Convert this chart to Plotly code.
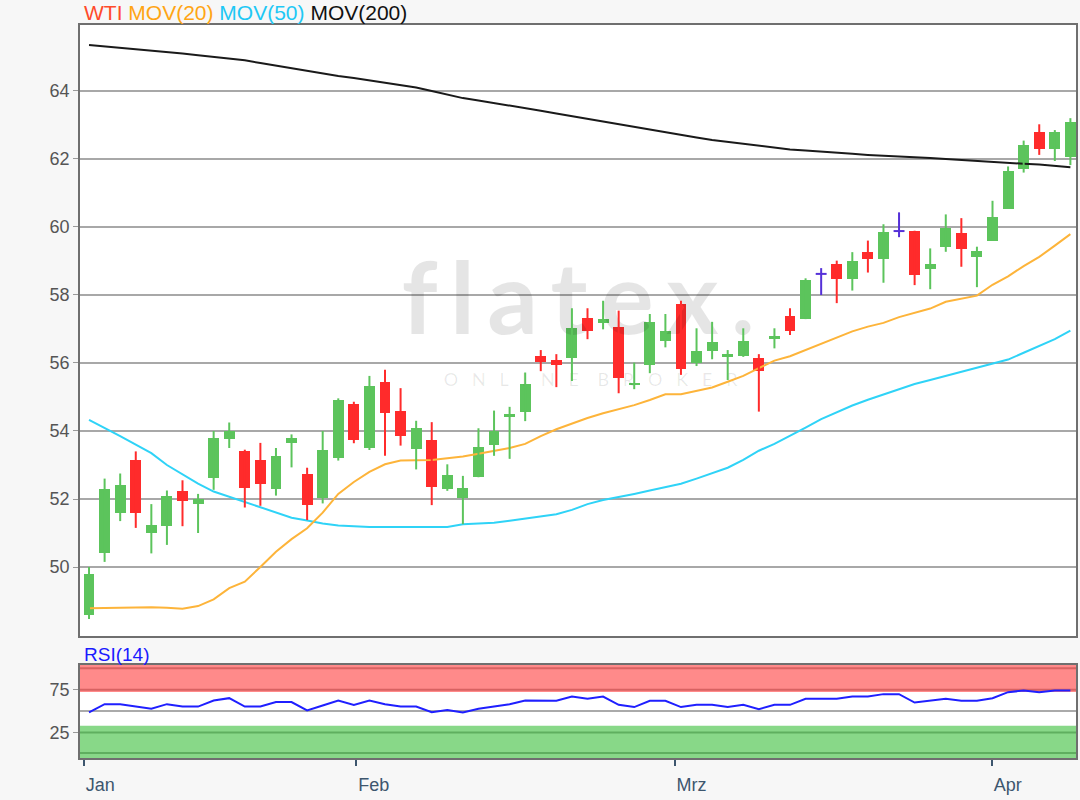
import plotly.graph_objects as go
from plotly.subplots import make_subplots

# ---------------- data ----------------
opens = [48.6, 50.4, 51.6, 53.15, 51.0, 51.2, 52.25, 51.85, 52.63, 53.75,
         53.4, 53.15, 52.28, 53.64, 52.73, 52.02, 53.22, 54.78, 53.49, 55.43,
         54.6, 53.46, 53.74, 52.28, 52.04, 52.64, 53.59, 54.4, 54.57, 56.21,
         56.09, 56.16, 57.31, 57.19, 57.07, 55.35, 55.94, 56.65, 57.73, 56.01,
         56.35, 56.19, 56.21, 56.14, 56.72, 57.38, 57.29, 58.62, 58.91, 58.47,
         59.26, 59.05, 59.88, 59.89, 58.76, 59.42, 59.83, 59.13, 59.6, 60.53,
         61.71, 62.79, 62.28, 62.05]
highs = [50.0, 52.6, 52.75, 53.4, 51.85, 52.25, 52.55, 52.15, 54.0, 54.25,
         53.45, 53.65, 53.5, 53.9, 52.92, 54.0, 54.96, 54.86, 55.62, 55.8,
         55.26, 54.3, 54.26, 53.02, 52.68, 54.08, 54.6, 54.71, 55.72, 56.38,
         56.26, 57.61, 57.61, 57.83, 57.54, 56.01, 57.44, 57.44, 57.83, 57.02,
         57.21, 56.38, 57.02, 56.26, 57.02, 57.61, 58.49, 58.79, 59.01, 59.26,
         59.6, 60.08, 60.43, 59.89, 59.37, 60.37, 60.26, 59.42, 60.77, 61.78,
         62.54, 63.02, 62.85, 63.2]
lows = [48.47, 50.15, 51.35, 51.15, 50.4, 50.65, 51.2, 51.0, 52.27, 53.5,
        51.75, 51.8, 52.1, 52.93, 51.38, 51.87, 53.13, 53.64, 53.44, 53.27,
        53.57, 52.87, 51.82, 52.24, 51.26, 52.64, 53.27, 53.18, 54.29, 55.76,
        55.29, 55.47, 56.7, 56.99, 55.11, 55.23, 55.7, 56.46, 55.65, 55.91,
        56.11, 55.5, 56.18, 54.57, 56.43, 56.82, 57.29, 58.0, 57.76, 58.13,
        58.66, 58.36, 59.7, 58.29, 58.17, 59.27, 58.83, 58.23, 59.6, 60.53,
        61.6, 62.12, 61.94, 61.82]
closes = [49.8, 52.3, 52.4, 51.6, 51.25, 52.1, 51.95, 52.0, 53.8, 54.0,
          52.33, 52.45, 53.26, 53.78, 51.82, 53.44, 54.91, 53.74, 55.32, 54.52,
          53.86, 54.08, 52.34, 52.71, 52.31, 53.54, 54.0, 54.49, 55.38, 56.04,
          55.94, 57.02, 56.95, 57.28, 55.57, 55.42, 57.2, 56.95, 55.82, 56.36,
          56.61, 56.26, 56.66, 55.75, 56.8, 56.94, 58.44, 58.62, 58.47, 59.01,
          59.06, 59.84, 59.88, 58.59, 58.9, 59.98, 59.34, 59.29, 60.3, 61.66,
          62.41, 62.29, 62.79, 63.08]

mov20 = [48.79, 48.8, 48.8, 48.8, 48.82, 48.8, 48.77, 48.85, 49.05, 49.38,
         49.57, 50.0, 50.45, 50.82, 51.14, 51.6, 52.15, 52.5, 52.8, 53.02,
         53.13, 53.14, 53.15, 53.2, 53.25, 53.33, 53.42, 53.5, 53.62, 53.85,
         54.05, 54.22, 54.38, 54.52, 54.64, 54.76, 54.91, 55.08, 55.08, 55.18,
         55.28, 55.45, 55.62, 55.85, 56.07, 56.2, 56.38, 56.58, 56.75, 56.93,
         57.07, 57.18, 57.35, 57.47, 57.6, 57.8, 57.88, 57.98, 58.3, 58.55,
         58.85, 59.12, 59.45, 59.79]
mov50 = [54.33, 54.1, 53.85, 53.6, 53.35, 53.0, 52.72, 52.45, 52.22, 52.07,
         51.92, 51.75, 51.6, 51.45, 51.37, 51.28, 51.22, 51.19, 51.18, 51.18,
         51.18, 51.18, 51.18, 51.18, 51.26, 51.28, 51.3, 51.36, 51.42, 51.48,
         51.55, 51.68, 51.85, 51.97, 52.05, 52.15, 52.25, 52.35, 52.45, 52.6,
         52.75, 52.92, 53.15, 53.42, 53.62, 53.85, 54.1, 54.35, 54.55, 54.75,
         54.92, 55.08, 55.22, 55.38, 55.5, 55.62, 55.75, 55.88, 55.98, 56.1,
         56.3, 56.5, 56.7, 56.95]
mov200 = [65.35, 65.31, 65.27, 65.23, 65.2, 65.15, 65.1, 65.05, 65.0, 64.95,
          64.9, 64.82, 64.74, 64.68, 64.6, 64.52, 64.44, 64.38, 64.31, 64.25,
          64.18, 64.1, 64.0, 63.9, 63.79, 63.72, 63.65, 63.57, 63.5, 63.42,
          63.34, 63.26, 63.18, 63.1, 63.02, 62.93, 62.85, 62.78, 62.7, 62.63,
          62.56, 62.5, 62.44, 62.38, 62.32, 62.28, 62.25, 62.21, 62.18, 62.15,
          62.12, 62.1, 62.09, 62.06, 62.03, 62.0, 61.97, 61.94, 61.9, 61.88,
          61.86, 61.84, 61.8, 61.76]
rsi14 = [48.4, 58.1, 58.1, 55.3, 52.7, 58.1, 55.3, 55.3, 62.3, 65.1,
         55.3, 55.3, 60.5, 60.5, 50.7, 56.5, 62.3, 57.3, 62.3, 58.1,
         55.3, 55.3, 48.8, 51.2, 48.4, 52.7, 55.3, 58.1, 62.3, 62.0,
         62.0, 67.0, 64.3, 67.0, 57.3, 54.7, 62.0, 62.0, 54.7, 57.3,
         57.3, 54.7, 57.3, 52.3, 57.3, 57.3, 64.3, 64.3, 64.3, 67.0,
         67.0, 69.8, 69.8, 60.0, 62.0, 64.3, 62.0, 62.0, 65.1, 72.1,
         74.0, 72.1, 74.0, 74.0]

month_labels = ["Jan", "Feb", "Mrz", "Apr"]
month_tick_pos = [-0.32, 17.17, 37.6, 57.97]
price_ticks = [50, 52, 54, 56, 58, 60, 62, 64]
rsi_ticks = [25, 75]

# ---------------- styles ----------------
UP = "#5cc45c"
DOWN = "#ff2b2b"
DOJI = "#5530d8"
BODY_W = 0.7
HALF = BODY_W / 2

idx = list(range(len(opens)))

fig = make_subplots(rows=2, cols=1, shared_xaxes=True)

# watermark (behind everything)
fig.add_trace(go.Scatter(
    x=[31.4], y=[57.6], mode="text",
    text=["f\u2009l\u2009a\u2009t\u2009e\u2009x\u2009."],
    textfont=dict(family="Lato, Open Sans, sans-serif", size=100, weight="bold",
                  color="rgba(0,0,0,0.10)"),
    hoverinfo="skip", showlegend=False), row=1, col=1)
fig.add_trace(go.Scatter(
    x=[32.2], y=[55.45], mode="text",
    text=["O   N   L   I   N   E    B   R   O   K   E   R"],
    textfont=dict(family="Lato, Open Sans, sans-serif", size=18, color="rgba(0,0,0,0.09)"),
    hoverinfo="skip", showlegend=False), row=1, col=1)

# moving averages
fig.add_trace(go.Scatter(x=idx, y=mov200, mode="lines", line=dict(color="#1a1a1a", width=2),
                         showlegend=False), row=1, col=1)
fig.add_trace(go.Scatter(x=idx, y=mov50, mode="lines", line=dict(color="#2fd3f7", width=2),
                         showlegend=False), row=1, col=1)
fig.add_trace(go.Scatter(x=idx, y=mov20, mode="lines", line=dict(color="#fdb43a", width=2),
                         showlegend=False), row=1, col=1)

# candles
groups = {"up": ([], UP), "down": ([], DOWN), "doji": ([], DOJI)}
for i in idx:
    if closes[i] > opens[i]:
        groups["up"][0].append(i)
    elif closes[i] < opens[i]:
        groups["down"][0].append(i)
    else:
        groups["doji"][0].append(i)

for key, (members, col) in groups.items():
    wx, wy = [], []
    for i in members:
        wx += [i, i, None]
        wy += [lows[i], highs[i], None]
        if key == "doji":
            wx += [i - HALF, i + HALF, None]
            wy += [opens[i], opens[i], None]
    fig.add_trace(go.Scatter(x=wx, y=wy, mode="lines", line=dict(color=col, width=2),
                             showlegend=False, hoverinfo="skip"), row=1, col=1)
    if key != "doji":
        fig.add_trace(go.Bar(
            x=members,
            base=[min(opens[i], closes[i]) for i in members],
            y=[abs(closes[i] - opens[i]) for i in members],
            width=BODY_W, marker=dict(color=col, line=dict(width=0)),
            showlegend=False), row=1, col=1)

# RSI
fig.add_trace(go.Scatter(x=idx, y=rsi14, mode="lines", line=dict(color="#1f1fff", width=2),
                         showlegend=False), row=2, col=1)

RSI_LO, RSI_HI = -4.7, 103.8
# RSI bands
fig.add_shape(type="rect", xref="x2 domain", yref="y2", x0=0, x1=1, y0=72.2, y1=RSI_HI,
              fillcolor="#ff8a8a", line=dict(width=0), layer="below")
fig.add_shape(type="rect", xref="x2 domain", yref="y2", x0=0, x1=1, y0=RSI_LO, y1=33.0,
              fillcolor="#88d888", line=dict(width=0), layer="below")
for yv, c in [(100, "#d86262"), (75, "#d86262"), (25, "#5faf5f"), (1, "#5faf5f"), (50, "#aaaaaa")]:
    fig.add_shape(type="line", xref="x2 domain", yref="y2", x0=0, x1=1, y0=yv, y1=yv,
                  line=dict(color=c, width=2), layer="below")

BORDER = "#6f6f6f"
fig.update_layout(
    width=1080, height=800,
    margin=dict(l=80, r=2, t=25, b=42),
    paper_bgcolor="#f7f7f7", plot_bgcolor="#ffffff",
    barmode="overlay", bargap=0,
    font=dict(family="Liberation Sans, Arial, sans-serif", size=15, color="#555555"),
    showlegend=False,
)
fig.update_xaxes(range=[-0.58, 63.36], showgrid=False, zeroline=False,
                 showline=True, mirror=True, linecolor=BORDER, linewidth=1.5)
fig.update_xaxes(showticklabels=False, ticks="", row=1, col=1)
fig.update_xaxes(tickmode="array", tickvals=month_tick_pos, ticktext=month_labels,
                 ticks="outside", ticklen=6, tickcolor="#3d566e", tickwidth=2,
                 ticklabelposition="outside right", ticklabelstandoff=10,
                 tickfont=dict(size=18, color="#3d566e"), row=2, col=1)

# main: y 25..636 ; rsi: 665..758 (plot height 800-25-42 = 733)
fig.update_yaxes(domain=[0.1664, 1.0], range=[47.97, 65.94], tickmode="array",
                 tickvals=price_ticks, ticktext=[str(v) for v in price_ticks],
                 showgrid=True, gridcolor="#a8a8a8", gridwidth=2, zeroline=False,
                 showline=True, mirror=True, linecolor=BORDER, linewidth=1.5,
                 ticks="outside", ticklen=5, tickcolor="#999999",
                 tickfont=dict(size=18, color="#555555"), row=1, col=1)
fig.update_yaxes(domain=[0.0, 0.1269], range=[RSI_LO, RSI_HI], tickmode="array",
                 tickvals=rsi_ticks, ticktext=[str(v) for v in rsi_ticks],
                 showgrid=False, zeroline=False,
                 showline=True, mirror=True, linecolor=BORDER, linewidth=1.5,
                 ticks="outside", ticklen=5, tickcolor="#999999",
                 tickfont=dict(size=18, color="#555555"), row=2, col=1)

# header legend and RSI label
fig.add_annotation(xref="paper", yref="paper", x=0.002, y=1.0, xanchor="left", yanchor="bottom",
                   showarrow=False, yshift=-1,
                   font=dict(size=21, family="Liberation Sans, Arial, sans-serif"),
                   text="<span style='color:#ff4a2a'>WTI</span> "
                        "<span style='color:#ffa514'>MOV(20)</span> "
                        "<span style='color:#1ec8f5'>MOV(50)</span> "
                        "<span style='color:#111111'>MOV(200)</span>")
fig.add_annotation(xref="paper", yref="paper", x=0.002, y=0.1269, xanchor="left", yanchor="bottom",
                   showarrow=False, yshift=-2,
                   font=dict(size=19, family="Liberation Sans, Arial, sans-serif", color="#1a1aff"),
                   text="RSI(14)")

fig.write_html("out.html", config={"displayModeBar": False},
               post_script="document.body.style.margin='0px';document.body.style.background='#f7f7f7';")
